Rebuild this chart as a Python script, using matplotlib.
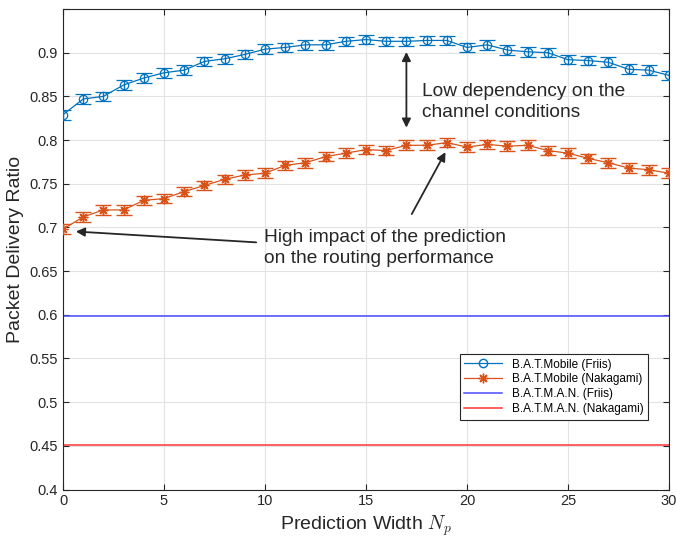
import numpy as np
import matplotlib
matplotlib.use('Agg')
import matplotlib.pyplot as plt
from matplotlib.lines import Line2D

plt.rcParams['font.family'] = ['Liberation Sans', 'DejaVu Sans']
plt.rcParams['mathtext.fontset'] = 'cm'

# data
Np = np.arange(0, 31)
pdr_mobile_friis = [0.829, 0.847, 0.850, 0.863, 0.871, 0.877, 0.880, 0.890, 0.893, 0.898,
                    0.904, 0.906, 0.909, 0.909, 0.913, 0.915, 0.913, 0.913, 0.914, 0.914,
                    0.906, 0.909, 0.903, 0.901, 0.900, 0.892, 0.891, 0.889, 0.881, 0.880,
                    0.874]
pdr_mobile_naka = [0.698, 0.712, 0.720, 0.720, 0.731, 0.733, 0.741, 0.748, 0.755, 0.760,
                   0.762, 0.771, 0.774, 0.781, 0.785, 0.789, 0.788, 0.794, 0.794, 0.797,
                   0.792, 0.795, 0.793, 0.794, 0.788, 0.785, 0.779, 0.774, 0.768, 0.766,
                   0.762]
err_friis = 0.0055
err_naka = 0.0055
pdr_batman_friis = 0.5985
pdr_batman_naka = 0.4515
labels = ['B.A.T.Mobile (Friis)', 'B.A.T.Mobile (Nakagami)',
          'B.A.T.M.A.N. (Friis)', 'B.A.T.M.A.N. (Nakagami)']

c_blue = '#0072BD'
c_orange = '#D95319'
c_bfriis = '#4a4aff'
c_bnaka = '#ff3333'
star = (8, 2, 0)

fig = plt.figure(figsize=(6.76, 5.39), dpi=100)
ax = fig.add_axes([63/676, 1-489.5/539, (669-63)/676, (489.5-9)/539])

ax.errorbar(Np, pdr_mobile_friis, yerr=err_friis, color=c_blue, marker='o', ms=6,
            mfc='none', mew=0.9, lw=0.9, capsize=5.5, elinewidth=1.0,
            ecolor=c_blue, zorder=3)
ax.errorbar(Np, pdr_mobile_naka, yerr=err_naka, color=c_orange, marker=star, ms=7,
            mew=1.0, lw=0.9, capsize=5.5, elinewidth=1.0,
            ecolor=c_orange, zorder=3)
ax.axhline(pdr_batman_friis, color=c_bfriis, lw=1.1)
ax.axhline(pdr_batman_naka, color=c_bnaka, lw=1.1)

ax.set_xlim(0, 30)
ax.set_ylim(0.4, 0.95)
ax.set_xticks(np.arange(0, 31, 5))
ax.set_yticks(np.arange(0.4, 0.951, 0.05))
ax.set_yticklabels(['0.4', '0.45', '0.5', '0.55', '0.6', '0.65', '0.7', '0.75',
                    '0.8', '0.85', '0.9', ''])
ax.grid(True, color='#e3e3e3', lw=0.8)
ax.set_axisbelow(True)
ax.tick_params(direction='in', labelsize=10.5, colors='#262626', length=4,
               top=True, right=True)
for s in ax.spines.values():
    s.set_color('#262626')
    s.set_linewidth(0.8)

ax.set_xlabel('Prediction Width $N_p$', fontsize=14, color='#262626')
ax.set_ylabel('Packet Delivery Ratio', fontsize=14, color='#262626')

# annotations
ax.annotate('', xy=(17.0, 0.904), xytext=(17.0, 0.811),
            arrowprops=dict(arrowstyle='<|-|>', color='#262626', lw=1.3,
                            mutation_scale=13))
ax.text(17.75, 0.844, 'Low dependency on the\nchannel conditions', fontsize=13.8,
        va='center', ha='left', color='#262626', linespacing=1.3)
ax.annotate('', xy=(19.0, 0.789), xytext=(17.2, 0.7125),
            arrowprops=dict(arrowstyle='-|>', color='#262626', lw=1.3,
                            mutation_scale=13))
ax.annotate('', xy=(0.5, 0.6955), xytext=(9.7, 0.6827),
            arrowprops=dict(arrowstyle='-|>', color='#262626', lw=1.3,
                            mutation_scale=13))
ax.text(9.95, 0.6766, 'High impact of the prediction\non the routing performance',
        fontsize=13.8, va='center', ha='left', color='#262626', linespacing=1.3)

handles = [Line2D([], [], color=c_blue, marker='o', mfc='none', ms=6, lw=0.9),
           Line2D([], [], color=c_orange, marker=star, ms=7, lw=0.9),
           Line2D([], [], color=c_bfriis, lw=1.1),
           Line2D([], [], color=c_bnaka, lw=1.1)]
leg = ax.legend(handles, labels, loc='lower right', bbox_to_anchor=(654/676, 1-426/539),
                bbox_transform=fig.transFigure, fontsize=8.5, fancybox=False,
                edgecolor='#262626', framealpha=1, borderpad=0.4,
                labelspacing=0.25, handlelength=3.2)
leg.get_frame().set_linewidth(0.8)

fig.savefig('out.png', dpi=100)
